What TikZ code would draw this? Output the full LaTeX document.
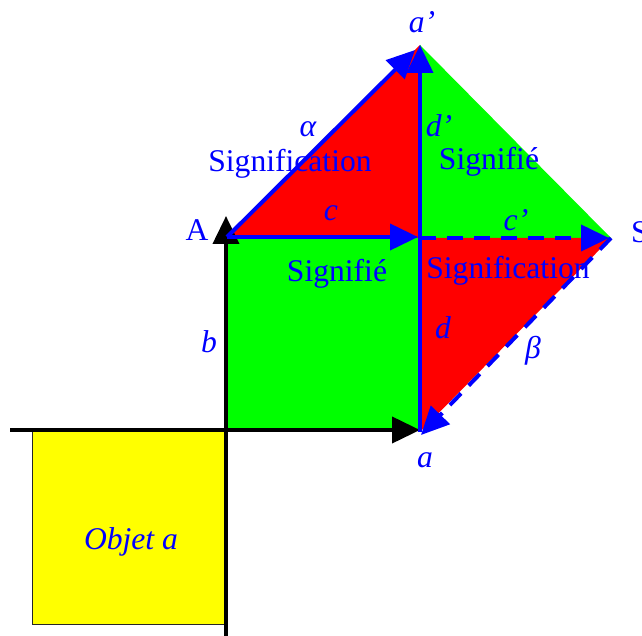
\documentclass[tikz,border=0pt]{standalone}
\usepackage{fontspec}
\setmainfont{Liberation Serif}
\usetikzlibrary{arrows.meta}
\definecolor{pblue}{RGB}{0,0,255}
\definecolor{pgreen}{RGB}{0,255,0}
\definecolor{pred}{RGB}{255,0,0}
\definecolor{pyellow}{RGB}{255,255,0}
\begin{document}
\begin{tikzpicture}[x=1pt,y=-1pt,
  lbl/.style={text=pblue,font=\fontsize{31.6}{36}\selectfont,inner sep=0pt,anchor=base},
  ilbl/.style={text=pblue,font=\fontsize{31.6}{36}\selectfont\itshape,inner sep=0pt,anchor=base},
  axis/.style={draw=black,line width=4pt,-{Triangle[length=28pt,width=26pt]}},
  vec/.style={draw=pblue,line width=4pt,-{Triangle[length=28pt,width=26pt]}},
  dvec/.style={vec,dash pattern=on 16pt off 11pt}]
\useasboundingbox (0,0) rectangle (642,636);
% key points
\coordinate (A) at (227,237);
\coordinate (ap) at (420,45);
\coordinate (apt) at (415,50);
\coordinate (M) at (420,238);
\coordinate (Mt) at (418,237);
\coordinate (S) at (611,238);
\coordinate (St) at (609,238);
\coordinate (a) at (420,432);
\coordinate (at) at (421,435);
\coordinate (Xl) at (10,430);
\coordinate (Xr) at (420,430);
\coordinate (Yb) at (226,640);
\coordinate (Yt) at (226,216);
% coloured areas
\fill[pgreen] (227,237) rectangle (420,431);
\fill[pred] (A) -- (ap) -- (M) -- cycle;
\fill[pgreen] (ap) -- (S) -- (M) -- cycle;
\fill[pred] (M) -- (S) -- (a) -- cycle;
\node[draw=black!85,fill=pyellow,line width=1.3pt,minimum width=192pt,minimum height=193pt,anchor=north west,inner sep=0pt] (obj) at (32,431) {};
% axes
\draw[axis] (Xl) -- (Xr);
\draw[axis] (Yb) -- (Yt);
% vectors
\draw[vec] (A) -- (apt);
\draw[vec] (A) -- (Mt);
\draw[vec] (a) -- (ap);
\draw[dvec] (M) -- (St);
\draw[dvec] (S) -- (at);
% labels
\node[ilbl] (lap) at (422,33) {a’};
\node[ilbl] (lalpha) at (308,137) {α};
\node[lbl] (lsig1) at (290,172) {Signification};
\node[ilbl] (lc) at (331,221) {c};
\node[lbl] (lA) at (197,241) {A};
\node[ilbl] (ldp) at (439,137) {d’};
\node[lbl] (lsf1) at (489,170) {Signifié};
\node[ilbl] (lcp) at (516,231) {c’};
\node[lbl,anchor=base west] (lS) at (631,243) {S};
\node[lbl] (lsig2) at (508,278) {Signification};
\node[lbl] (lsf2) at (337,281) {Signifié};
\node[ilbl] (lb) at (209,352) {b};
\node[ilbl] (ld) at (443,338) {d};
\node[ilbl] (lbeta) at (533,358) {β};
\node[ilbl] (la) at (425,467) {a};
\node[ilbl] (lobj) at (131,549) {Objet a};
\end{tikzpicture}
\end{document}
